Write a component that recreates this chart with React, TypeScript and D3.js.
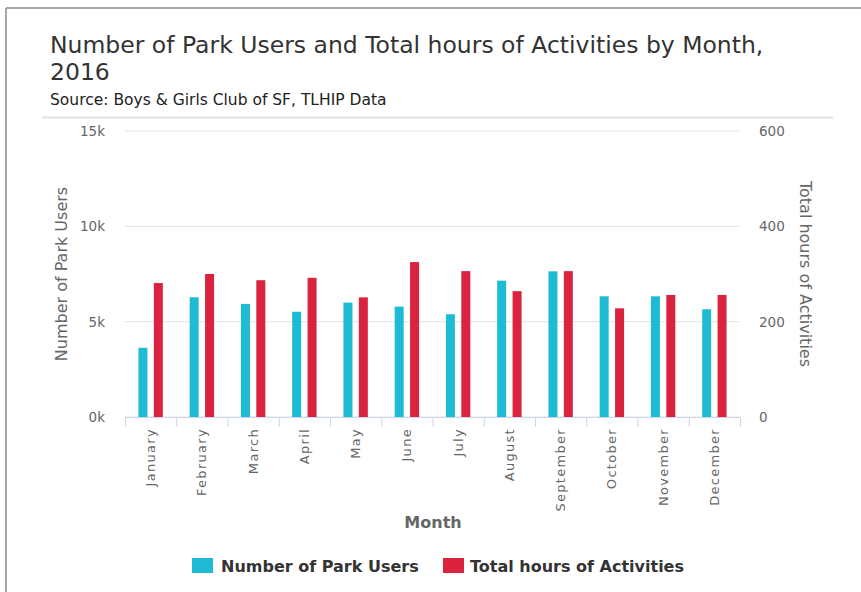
import React from "react";
import * as d3 from "d3";

const months = ["January", "February", "March", "April", "May", "June", "July", "August", "September", "October", "November", "December"];
const parkUsers = [3630, 6280, 5930, 5520, 6000, 5790, 5390, 7150, 7640, 6330, 6330, 5650];
const activityHours = [281, 300, 287, 292, 251, 325, 306, 264, 306, 228, 256, 256];
const leftTicks = [0, 5000, 10000, 15000];
const rightTicks = [0, 200, 400, 600];

const CYAN = "#1fbbd4";
const RED = "#d9233f";
const GRID = "#e2e2e2";
const AXIS = "#ccd6eb";
const TXT = "#666666";

export default function App() {
  const width = 861;
  const height = 592;
  const left = 125;
  const right = 740;
  const top = 131;
  const bottom = 417;

  const x = d3.scaleBand<string>().domain(months).range([left, right]);
  const yL = d3.scaleLinear().domain([0, 15000]).range([bottom, top]);
  const yR = d3.scaleLinear().domain([0, 600]).range([bottom, top]);
  const barW = 9;
  const off = 7.7;

  const font = "'DejaVu Sans', Verdana, sans-serif";

  return (
    <svg width={width} height={height} style={{ position: "absolute", left: 0, top: 0, background: "#fff" }}>
      {/* frame */}
      <line x1={6} x2={width} y1={8} y2={8} stroke="#8a8a8a" strokeWidth={1.5} />
      <line x1={6} x2={6} y1={8} y2={height} stroke="#8a8a8a" strokeWidth={1.5} />

      <text x={50} y={53} fontFamily={font} fontSize={23.5} fill="#333">
        Number of Park Users and Total hours of Activities by Month,
      </text>
      <text x={50} y={80} fontFamily={font} fontSize={23.5} fill="#333">2016</text>
      <text x={50} y={105} fontFamily={font} fontSize={15.5} fill="#222">
        Source: Boys &amp; Girls Club of SF, TLHIP Data
      </text>
      <line x1={42} x2={833} y1={117.5} y2={117.5} stroke="#e0e0e0" strokeWidth={2} />

      {/* grid */}
      {leftTicks.map((t) => (
        <line key={t} x1={left} x2={right} y1={yL(t)} y2={yL(t)} stroke={GRID} strokeWidth={1} />
      ))}

      {/* axis labels */}
      {leftTicks.map((t) => (
        <text key={t} x={105} y={yL(t) + 5} textAnchor="end" fontFamily={font} fontSize={13.5} fill={TXT}>
          {t / 1000 + "k"}
        </text>
      ))}
      {rightTicks.map((t) => (
        <text key={t} x={759} y={yR(t) + 5} textAnchor="start" fontFamily={font} fontSize={13.5} fill={TXT}>
          {t}
        </text>
      ))}

      <text transform={`translate(67,${(top + bottom) / 2}) rotate(-90)`} textAnchor="middle" fontFamily={font} fontSize={16} fill={TXT}>
        Number of Park Users
      </text>
      <text transform={`translate(800,${(top + bottom) / 2}) rotate(90)`} textAnchor="middle" fontFamily={font} fontSize={16} fill={TXT}>
        Total hours of Activities
      </text>

      {/* bars */}
      {months.map((m, i) => {
        const c = x(m)! + x.bandwidth() / 2;
        return (
          <g key={m}>
            <rect x={c - off - barW / 2} y={yL(parkUsers[i])} width={barW} height={bottom - yL(parkUsers[i])} fill={CYAN} />
            <rect x={c + off - barW / 2} y={yR(activityHours[i])} width={barW} height={bottom - yR(activityHours[i])} fill={RED} />
          </g>
        );
      })}

      {/* x axis */}
      <line x1={left} x2={right} y1={bottom + 0.5} y2={bottom + 0.5} stroke={AXIS} />
      {months.map((m) => (
        <line key={m} x1={x(m)! + 0.5} x2={x(m)! + 0.5} y1={bottom} y2={bottom + 10} stroke={AXIS} />
      ))}
      <line x1={right + 0.5} x2={right + 0.5} y1={bottom} y2={bottom + 10} stroke={AXIS} />
      {months.map((m) => (
        <text
          key={m}
          transform={`translate(${x(m)! + x.bandwidth() / 2 + 4.5},${bottom + 11}) rotate(-90)`}
          textAnchor="end"
          fontFamily={font}
          fontSize={13}
          letterSpacing={1.3}
          fill={TXT}
        >
          {m}
        </text>
      ))}
      <text x={433} y={528} textAnchor="middle" fontFamily={font} fontSize={16} fontWeight="bold" fill={TXT}>
        Month
      </text>

      {/* legend */}
      <rect x={192} y={558} width={21} height={15} fill={CYAN} />
      <text x={221} y={572} fontFamily={font} fontSize={16} fontWeight="bold" fill="#333">
        Number of Park Users
      </text>
      <rect x={443} y={558} width={21} height={15} fill={RED} />
      <text x={470} y={572} fontFamily={font} fontSize={16} fontWeight="bold" fill="#333">
        Total hours of Activities
      </text>
    </svg>
  );
}
